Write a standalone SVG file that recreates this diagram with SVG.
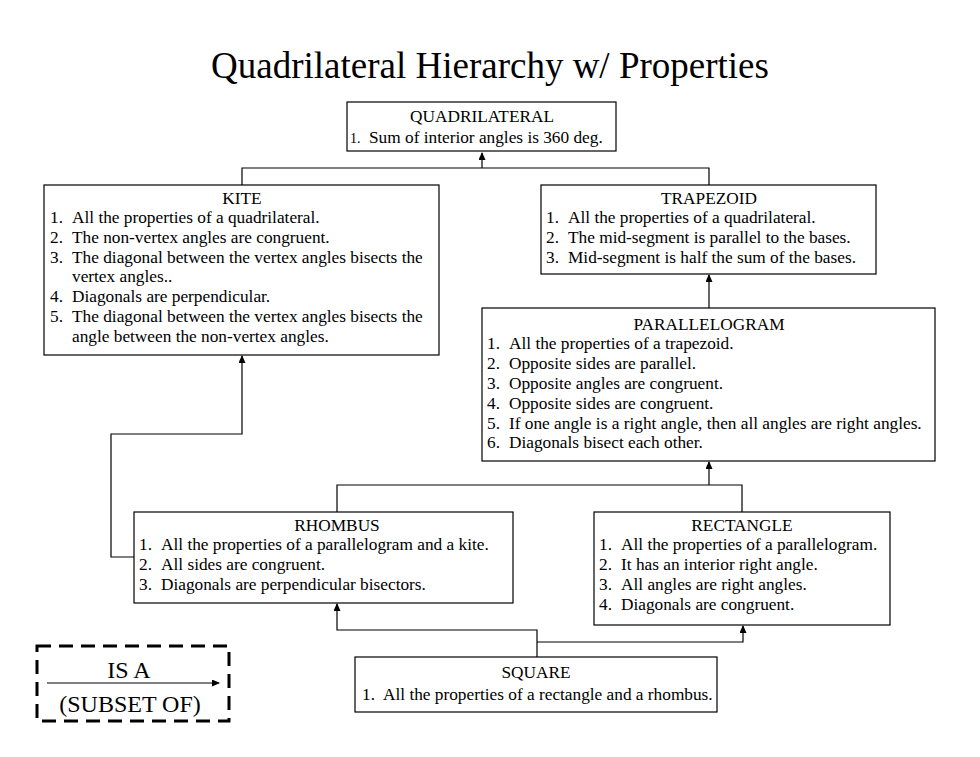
<svg xmlns="http://www.w3.org/2000/svg" width="980" height="757" viewBox="0 0 980 757" font-family="Liberation Serif">
<style>
.t{font-size:17.3px;text-anchor:middle}
.b{font-size:17.3px}
.box{fill:#fff;stroke:#000;stroke-width:1.2}
.c{fill:none;stroke:#000;stroke-width:1.2}
</style>
<defs>
<marker id="ah" markerWidth="8" markerHeight="7" refX="7" refY="3.5" orient="auto" markerUnits="userSpaceOnUse" viewBox="0 0 8 7">
<path d="M0,0 L8,3.5 L0,7 Z" fill="#000"/>
</marker>
</defs>
<rect width="980" height="757" fill="#fff"/>
<text x="490" y="78" font-size="37" text-anchor="middle">Quadrilateral Hierarchy w/ Properties</text>

<g id="connectors">
<path class="c" d="M242,185 V168 H709 V185"/>
<path class="c" d="M482,168 V153" marker-end="url(#ah)"/>
<path class="c" d="M709,308 V275" marker-end="url(#ah)"/>
<path class="c" d="M337,512 V485 H742 V512"/>
<path class="c" d="M709,485 V462" marker-end="url(#ah)"/>
<path class="c" d="M134,557 H111 V434 H242 V356" marker-end="url(#ah)"/>
<path class="c" d="M537,657 V630 H337 V604" marker-end="url(#ah)"/>
<path class="c" d="M537,642 H743 V626" marker-end="url(#ah)"/>
</g>

<g id="quadrilateral">
<rect class="box" x="347" y="102" width="269" height="49"/>
<text class="t" x="482" y="122">QUADRILATERAL</text>
<text x="350" y="143" font-size="14">1.</text><text class="b" x="369" y="143">Sum of interior angles is 360 deg.</text>
</g>

<g id="kite">
<rect class="box" x="44" y="185" width="395" height="170"/>
<text class="t" x="242" y="204">KITE</text>
<text class="b" x="50" y="223">1.</text><text class="b" x="72" y="223">All the properties of a quadrilateral.</text>
<text class="b" x="50" y="243">2.</text><text class="b" x="72" y="243">The non-vertex angles are congruent.</text>
<text class="b" x="50" y="263">3.</text><text class="b" x="72" y="263">The diagonal between the vertex angles bisects the</text>
<text class="b" x="72" y="282">vertex angles..</text>
<text class="b" x="50" y="302">4.</text><text class="b" x="72" y="302">Diagonals are perpendicular.</text>
<text class="b" x="50" y="322">5.</text><text class="b" x="72" y="322">The diagonal between the vertex angles bisects the</text>
<text class="b" x="72" y="342">angle between the non-vertex angles.</text>
</g>

<g id="trapezoid">
<rect class="box" x="541" y="185" width="335" height="89"/>
<text class="t" x="709" y="204">TRAPEZOID</text>
<text class="b" x="546" y="223">1.</text><text class="b" x="568" y="223">All the properties of a quadrilateral.</text>
<text class="b" x="546" y="243">2.</text><text class="b" x="568" y="243">The mid-segment is parallel to the bases.</text>
<text class="b" x="546" y="263">3.</text><text class="b" x="568" y="263">Mid-segment is half the sum of the bases.</text>
</g>

<g id="parallelogram">
<rect class="box" x="482" y="308" width="453" height="153"/>
<text class="t" x="709" y="330">PARALLELOGRAM</text>
<text class="b" x="487" y="349">1.</text><text class="b" x="509" y="349">All the properties of a trapezoid.</text>
<text class="b" x="487" y="369">2.</text><text class="b" x="509" y="369">Opposite sides are parallel.</text>
<text class="b" x="487" y="389">3.</text><text class="b" x="509" y="389">Opposite angles are congruent.</text>
<text class="b" x="487" y="409">4.</text><text class="b" x="509" y="409">Opposite sides are congruent.</text>
<text class="b" x="487" y="429">5.</text><text class="b" x="509" y="429">If one angle is a right angle, then all angles are right angles.</text>
<text class="b" x="487" y="448">6.</text><text class="b" x="509" y="448">Diagonals bisect each other.</text>
</g>

<g id="rhombus">
<rect class="box" x="134" y="512" width="379" height="91"/>
<text class="t" x="337" y="531">RHOMBUS</text>
<text class="b" x="139" y="550">1.</text><text class="b" x="161" y="550">All the properties of a parallelogram and a kite.</text>
<text class="b" x="139" y="570">2.</text><text class="b" x="161" y="570">All sides are congruent.</text>
<text class="b" x="139" y="590">3.</text><text class="b" x="161" y="590">Diagonals are perpendicular bisectors.</text>
</g>

<g id="rectangle">
<rect class="box" x="594" y="512" width="296" height="113"/>
<text class="t" x="742" y="531">RECTANGLE</text>
<text class="b" x="599" y="550">1.</text><text class="b" x="621" y="550">All the properties of a parallelogram.</text>
<text class="b" x="599" y="570">2.</text><text class="b" x="621" y="570">It has an interior right angle.</text>
<text class="b" x="599" y="590">3.</text><text class="b" x="621" y="590">All angles are right angles.</text>
<text class="b" x="599" y="610">4.</text><text class="b" x="621" y="610">Diagonals are congruent.</text>
</g>

<g id="square">
<rect class="box" x="355" y="657" width="362" height="55"/>
<text class="t" x="536" y="678">SQUARE</text>
<text class="b" x="362" y="700">1.</text><text class="b" x="383" y="700">All the properties of a rectangle and a rhombus.</text>
</g>

<g id="legend">
<rect x="37" y="646" width="192" height="75" fill="none" stroke="#000" stroke-width="3" stroke-dasharray="14,8"/>
<text x="129" y="678" font-size="24" text-anchor="middle">IS A</text>
<path class="c" d="M47,683 H219" marker-end="url(#ah)"/>
<text x="130" y="712" font-size="24" text-anchor="middle">(SUBSET OF)</text>
</g>
</svg>
